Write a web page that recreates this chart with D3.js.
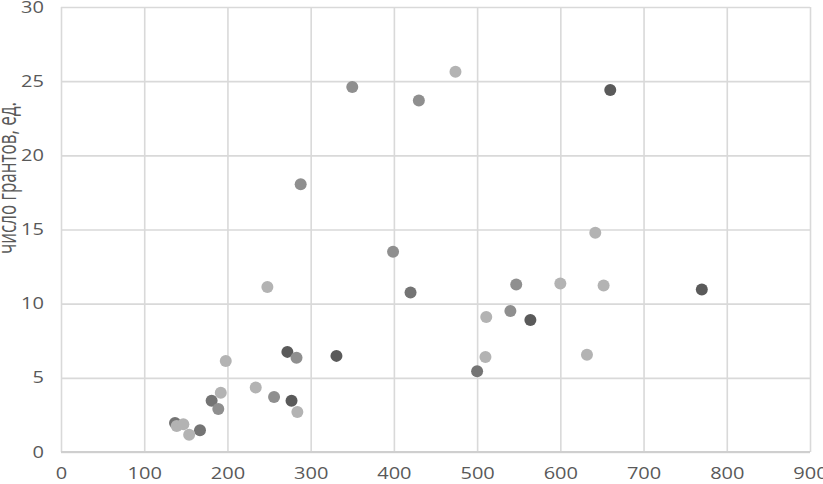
<!DOCTYPE html>
<html>
<head>
<meta charset="utf-8">
<script src="https://cdn.jsdelivr.net/npm/d3@7"></script>
<style>
  body { margin: 0; background: #fff; }
  .tick text { font-family: "Open Sans", sans-serif; font-size: 16px; fill: #595959; }
  .axis-title { font-family: "Open Sans", sans-serif; font-size: 17px; fill: #595959; }
</style>
</head>
<body>
<div id="chart"></div>
<script>
// x - value per org, y - число грантов; four grey shades = four groups
var seriesNames = ["dark", "midDark", "mid", "light"];
var darkPoints = [[660, 24.4], [770, 10.95], [564, 8.9], [277, 3.45], [272, 6.75], [331, 6.48]];
var midDarkPoints = [[500, 5.45], [137, 1.96], [167, 1.46], [181, 3.45], [420, 10.76]];
var midPoints = [[350, 24.6], [430, 23.7], [288, 18.05], [399, 13.5], [283, 6.35], [189, 2.9], [540, 9.5], [256, 3.7], [547, 11.3]];
var lightPoints = [[474, 25.64], [642, 14.78], [600, 11.36], [652, 11.23], [511, 9.1], [510, 6.4], [632, 6.55], [234, 4.35], [284, 2.7], [198, 6.13], [139, 1.75], [147, 1.87], [154, 1.17], [192, 4.0], [248, 11.12]];
var xTicks = [0, 100, 200, 300, 400, 500, 600, 700, 800, 900];
var yTicks = [0, 5, 10, 15, 20, 25, 30];
var yTitle = "число грантов, ед.";

var margin = { top: 7, right: 13, bottom: 32, left: 61 };
var width = 823 - margin.left - margin.right,
    height = 484 - margin.top - margin.bottom;

var svg = d3.select("#chart").append("svg")
    .attr("width", 823)
    .attr("height", 484);

var g = svg.append("g")
    .attr("transform", "translate(" + margin.left + "," + margin.top + ")");

var x = d3.scaleLinear().domain([0, 900]).range([0, width]);
var y = d3.scaleLinear().domain([0, 30]).range([height, 0]);

var color = d3.scaleOrdinal()
    .domain(seriesNames)
    .range(["#5a5a5a", "#747474", "#8f8f8f", "#b3b3b3"]);

// gridlines via axes
var xAxis = d3.axisBottom(x).tickValues(xTicks).tickSize(-height).tickPadding(8);
var yAxis = d3.axisLeft(y).tickValues(yTicks).tickSize(-width).tickPadding(16);

var gx = g.append("g")
    .attr("class", "x-axis")
    .attr("transform", "translate(0," + height + ")")
    .call(xAxis);
var gy = g.append("g")
    .attr("class", "y-axis")
    .call(yAxis);

[gx, gy].forEach(function(a) {
  a.select(".domain").remove();
  a.selectAll(".tick line").attr("stroke", "#d9d9d9").attr("stroke-width", 1.6);
});
// the source picture is stretched sideways, so stretch the labels too
gx.selectAll(".tick text")
    .attr("dy", null)
    .attr("y", 27)
    .attr("transform", "scale(1.25,1)");
gy.selectAll(".tick text")
    .attr("x", null)
    .attr("transform", "translate(-17,0) scale(1.25,1)");

// bottom axis line slightly darker
g.append("line")
    .attr("x1", 0).attr("x2", width)
    .attr("y1", height).attr("y2", height)
    .attr("stroke", "#cfcfcf").attr("stroke-width", 1.8);

// title
svg.append("text")
    .attr("class", "axis-title")
    .attr("text-anchor", "middle")
    .attr("transform", "translate(16,178) scale(1.45,1) rotate(-90)")
    .text(yTitle);

// points
var groups = [darkPoints, midDarkPoints, midPoints, lightPoints];
groups.forEach(function(pts, i) {
  g.append("g").selectAll("circle")
      .data(pts)
    .enter().append("circle")
      .attr("cx", function(d) { return x(d[0]); })
      .attr("cy", function(d) { return y(d[1]); })
      .attr("r", 6)
      .attr("fill", color(seriesNames[i]));
});
</script>
</body>
</html>
